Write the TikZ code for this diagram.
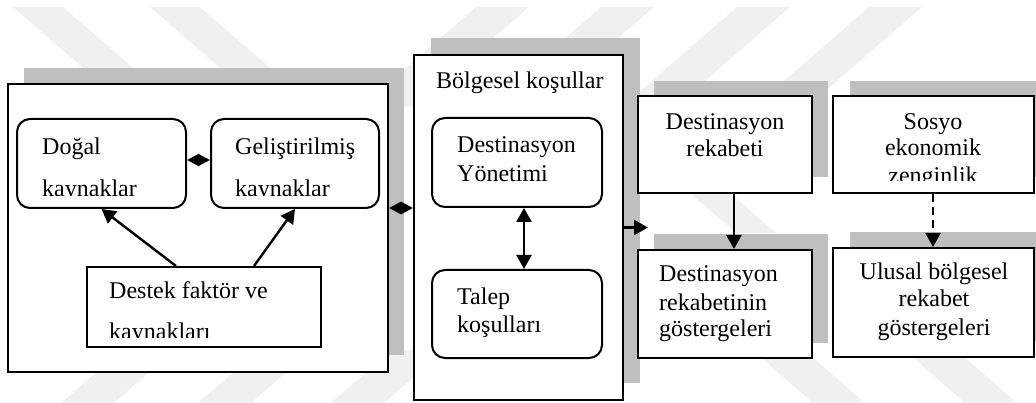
\documentclass[tikz,border=0pt]{standalone}
\usepackage{fontspec}
\setmainfont{Liberation Serif}
\usetikzlibrary{arrows.meta}
\newcommand\labelfont{\fontsize{24}{28}\selectfont}
\begin{document}
\begin{tikzpicture}[x=1pt,y=-1pt,
  box/.style={draw=black, line width=2pt, fill=white, inner sep=0pt},
  rbox/.style={box, rounded corners=13pt},
  txt/.style={inner sep=0pt, font=\labelfont},
  shade/.style={fill=black!25},
  markband/.style={fill=black!6},
  tipa/.tip={Triangle[length=12pt,width=12pt]},
  tipb/.tip={Triangle[length=14pt,width=15pt]},
  conn/.style={line width=2.4pt, -tipb},
  biconn/.style={line width=2.4pt, tipb-tipb},
  shortbi/.style={line width=2.4pt, tipa-tipa},
]
\useasboundingbox (0,0) rectangle (1036,403);

% faint diagonal background bands
\foreach \a in {13,150}
  \fill[markband] (\a,7) -- ++(50,0) -- ++(115,100) -- ++(-50,0) -- cycle;
\foreach \a in {476,601,737,869}
  \fill[markband] (\a,7) -- ++(53,0) -- ++(-115,100) -- ++(-53,0) -- cycle;
\foreach \a in {93,230,363}
  \fill[markband] (\a+29,350) -- ++(53,0) -- ++(-61,53) -- ++(-53,0) -- cycle;
\foreach \a in {787,939}
  \fill[markband] (\a-29,355) -- ++(52,0) -- ++(55,48) -- ++(-52,0) -- cycle;
\fill[markband] (690,193) -- ++(40,0) -- ++(46,40) -- ++(-40,0) -- cycle;

% drop shadows
\fill[shade] (24,68) rectangle (404,355);
\fill[shade] (431,38) rectangle (640,383);
\fill[shade] (654,81) rectangle (828,177);
\fill[shade] (850,81) rectangle (1036,177);
\fill[shade] (654,234) rectangle (828,343);
\fill[shade] (850,232) rectangle (1036,341);

% boxes
\node[box, minimum width=380pt, minimum height=288pt] (L) at (198,228) {};
\node[rbox, minimum width=169pt, minimum height=89pt] (D) at (101.5,163.5) {};
\node[rbox, minimum width=168pt, minimum height=89pt] (G) at (295,163.5) {};
\node[box, minimum width=234pt, minimum height=80pt] (S) at (204,307) {};
\node[box, minimum width=209pt, minimum height=345pt] (M) at (518.5,227.5) {};
\node[rbox, minimum width=170pt, minimum height=89pt] (Y) at (517,162.5) {};
\node[rbox, minimum width=170pt, minimum height=88pt] (T) at (517,314) {};
\node[box, minimum width=174pt, minimum height=97pt] (R1) at (725,144.5) {};
\node[box, minimum width=201pt, minimum height=97pt] (R2) at (933.5,144.5) {};
\node[box, minimum width=174pt, minimum height=108pt] (R3) at (725,304) {};
\node[box, minimum width=201pt, minimum height=109pt] (R4) at (933.5,302.5) {};

% labels
\node[txt, anchor=base west] (d1) at (42,155) {Doğal};
\begin{scope}
  \clip (17,119) rectangle (186,196);
  \node[txt, anchor=base west] (d2) at (42,197) {kaynaklar};
\end{scope}
\node[txt, anchor=base west] (g1) at (235,155) {Geliştirilmiş};
\begin{scope}
  \clip (211,119) rectangle (379,196);
  \node[txt, anchor=base west] (g2) at (235,197) {kaynaklar};
\end{scope}
\node[txt, anchor=base west] (s1) at (109,299) {Destek faktör ve};
\begin{scope}
  \clip (87,267) rectangle (321,337);
  \node[txt, anchor=base west] (s2) at (109,339) {kaynakları};
\end{scope}
\node[txt, anchor=base west] (m1) at (436,89) {Bölgesel koşullar};
\node[txt, anchor=base west] (y1) at (457,153) {Destinasyon};
\node[txt, anchor=base west] (y2) at (457,182) {Yönetimi};
\node[txt, anchor=base west] (t1) at (457,305) {Talep};
\node[txt, anchor=base west] (t2) at (457,332) {koşulları};
\node[txt, anchor=base] (r11) at (725,130) {Destinasyon};
\node[txt, anchor=base] (r12) at (725,157) {rekabeti};
\node[txt, anchor=base] (r21) at (933,130) {Sosyo};
\node[txt, anchor=base] (r22) at (933,156) {ekonomik};
\begin{scope}
  \clip (833,96) rectangle (1034,181);
  \node[txt, anchor=base] (r23) at (933,184) {zenginlik};
\end{scope}
\node[txt, anchor=base west] (r31) at (659,282) {Destinasyon};
\node[txt, anchor=base west] (r32) at (659,310) {rekabetinin};
\node[txt, anchor=base west] (r33) at (659,337) {göstergeleri};
\node[txt, anchor=base] (r41) at (934,280) {Ulusal bölgesel};
\node[txt, anchor=base] (r42) at (934,307) {rekabet};
\node[txt, anchor=base] (r43) at (934,335) {göstergeleri};

% connectors
\coordinate (h1) at (0,208);
\coordinate (mout) at (648,227.5);
\draw[shortbi] ([yshift=3.5pt]D.east) -- ([yshift=3.5pt]G.west);
\draw[shortbi] (L.east |- h1) -- (M.west |- h1);
\draw[conn] ([xshift=-28pt]S.north) -- (D.south);
\draw[conn] ([xshift=50pt]S.north) -- (G.south);
\draw[biconn] ([xshift=7pt]Y.south) -- ([xshift=7pt]T.north);
\draw[conn] (M.east) -- (mout);
\draw[conn] ([xshift=9pt]R1.south) -- ([xshift=9pt]R3.north);
\draw[conn, dash pattern=on 8pt off 5pt] ([xshift=-0.5pt]R2.south) -- ([xshift=-0.5pt]R4.north);
\end{tikzpicture}
\end{document}
